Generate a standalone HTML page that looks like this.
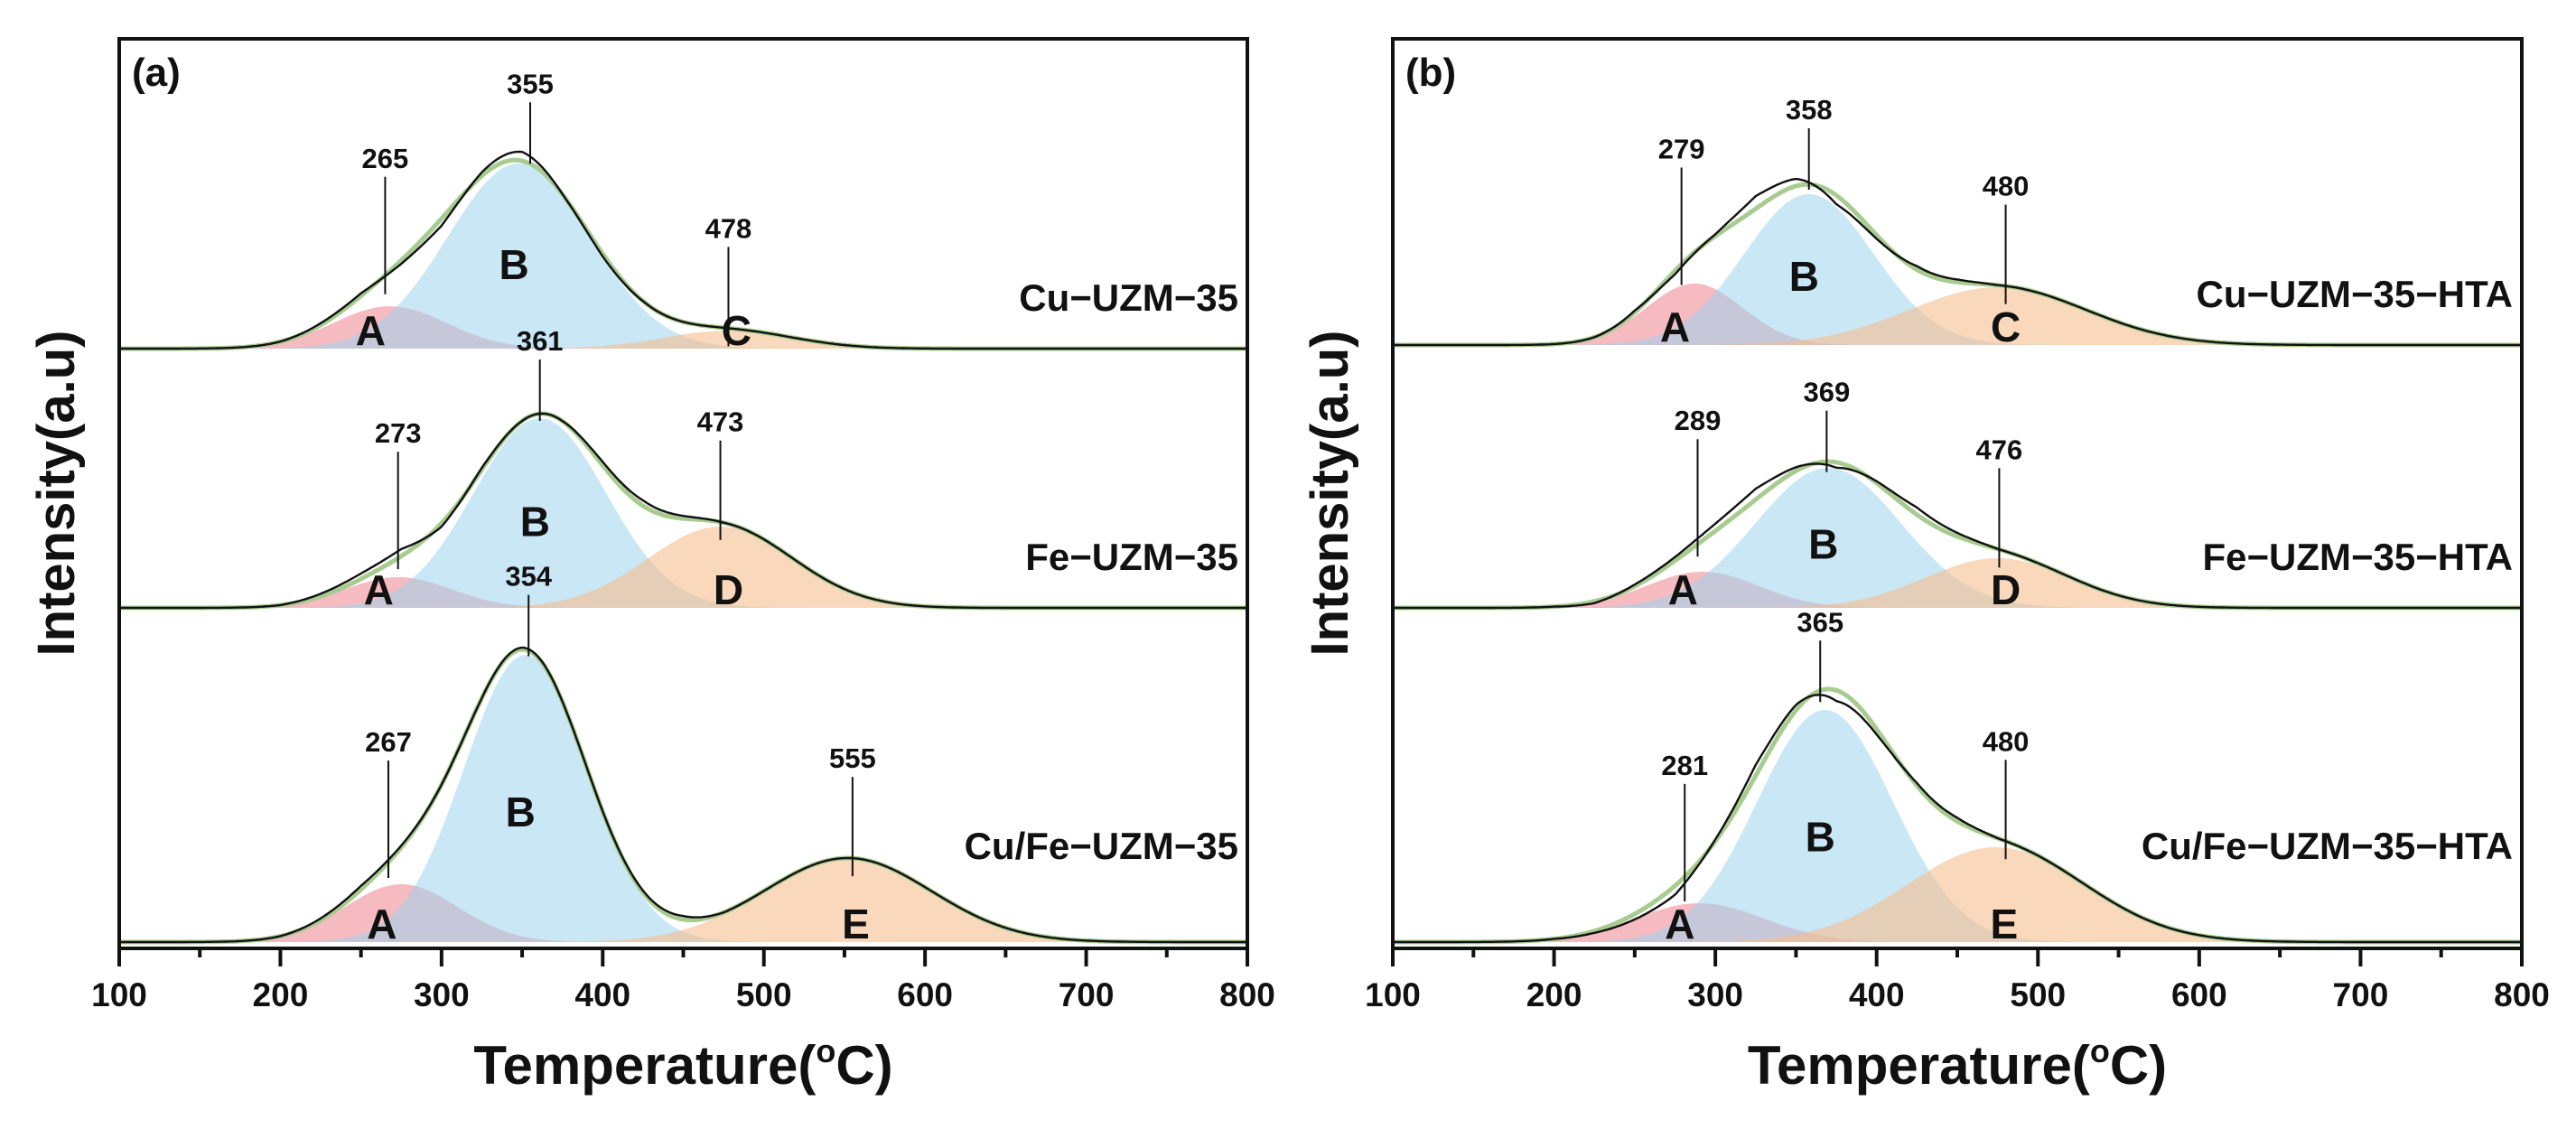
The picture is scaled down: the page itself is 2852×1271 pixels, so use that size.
<!DOCTYPE html>
<html><head><meta charset="utf-8">
<style>
html,body{margin:0;padding:0;background:#fff;}
svg{display:block;font-family:"Liberation Sans",Arial,sans-serif;}
</style></head>
<body>
<svg id="chart" width="2852" height="1271" viewBox="0 0 2852 1271" xmlns="http://www.w3.org/2000/svg"></svg>
<script>
// ---------- data ----------
const xTicks = [100,200,300,400,500,600,700,800];
// Panel (a)
const namesA = ["Cu\u2212UZM\u221235","Fe\u2212UZM\u221235","Cu/Fe\u2212UZM\u221235"];
const centersA = [[268,348,478],[273,361,473],[275,352,552]];
const heightsA = [[47,205,20],[34,210,90],[64,318,93]];
const sigmasA  = [[35,44,40],[33,41,45],[35,38,52]];
const lettersA = [["A","B","C"],["A","B","D"],["A","B","E"]];
const peakLabelsA = [[265,355,478],[273,361,473],[267,354,555]];
// Panel (b)
const namesB = ["Cu\u2212UZM\u221235\u2212HTA","Fe\u2212UZM\u221235\u2212HTA","Cu/Fe\u2212UZM\u221235\u2212HTA"];
const centersB = [[287,358,475],[292,370,475],[290,368,474]];
const heightsB = [[68,167,64],[40,155,55],[43,257,105]];
const sigmasB  = [[30,40,55],[35,45,45],[40,42,55]];
const lettersB = [["A","B","C"],["A","B","D"],["A","B","E"]];
const peakLabelsB = [[279,358,480],[289,369,476],[281,365,480]];
// residuals of experimental (black) vs fit, at temperatures residT
const residT = [225,250,275,300,325,350,375,400,425,450];
const residA = [[2,3,-4,-8,4,10,0,-3,0,0],[3,6,8,-4,2,0,0,4,6,3],[2,4,2,0,0,2,0,0,2,4]];
const residB = [[0,2,-4,2,14,8,-10,-4,4,3],[-2,2,4,8,12,4,-6,2,8,4],[-2,-6,-10,2,12,6,-12,-6,3,4]];

// ---------- layout ----------
const svg = document.getElementById('chart');
const NS = "http://www.w3.org/2000/svg";
const panels = [
  {id:"a", x0:132, x1:1381, names:namesA, centers:centersA, heights:heightsA, sigmas:sigmasA, letters:lettersA, peaks:peakLabelsA, resid:residA, bases:[386,673,1043]},
  {id:"b", x0:1542, x1:2792, names:namesB, centers:centersB, heights:heightsB, sigmas:sigmasB, letters:lettersB, peaks:peakLabelsB, resid:residB, bases:[382,673,1043]}
];
const yTop = 43, yAxis = 1050;
const fillCols = ["#f08c98","#9fd3ef","#f5be8e"];

function mk(tag, attrs, parent){const e=document.createElementNS(NS,tag);for(const k in attrs)e.setAttribute(k,attrs[k]);(parent||svg).appendChild(e);return e;}
function gauss(T,c,h,s){return h*Math.exp(-(T-c)*(T-c)/(2*s*s));}
function interpRes(T,arr){
  if(T<=residT[0]-25||T>=residT[residT.length-1]+25)return 0;
  const pts=[[residT[0]-25,0]].concat(residT.map((t,i)=>[t,arr[i]])).concat([[residT[residT.length-1]+25,0]]);
  for(let i=0;i<pts.length-1;i++){if(T>=pts[i][0]&&T<=pts[i+1][0]){const f=(T-pts[i][0])/(pts[i+1][0]-pts[i][0]);return pts[i][1]+f*(pts[i+1][1]-pts[i][1]);}}
  return 0;
}

panels.forEach((p,pi)=>{
  const xs = T => p.x0 + (T-100)/700*(p.x1-p.x0);
  const g = mk('g',{});
  
  
  const clipId='clip'+p.id;
  const cp=mk('clipPath',{id:clipId},g); mk('rect',{x:p.x0,y:yTop,width:p.x1-p.x0,height:yAxis-yTop},cp);
  const plot=mk('g',{'clip-path':'url(#'+clipId+')'},g);

  p.names.forEach((nm,si)=>{
    const base=p.bases[si];
    const ys = v => base - v;
    const sg=mk('g',{},plot);
    
    
    p.centers[si].forEach((c,ci)=>{
      const h=p.heights[si][ci], s=p.sigmas[si][ci];
      let d='M'+xs(100)+','+base;
      for(let T=100;T<=800;T+=2)d+=' L'+xs(T).toFixed(1)+','+ys(gauss(T,c,h,s)).toFixed(1);
      d+=' L'+xs(800)+','+base+' Z';
      const e=mk('path',{d:d,fill:fillCols[ci],'fill-opacity':ci==1?0.55:0.6,stroke:'none'},sg);
      
      
    });
    const fit=T=>p.centers[si].reduce((a,c,ci)=>a+gauss(T,c,p.heights[si][ci],p.sigmas[si][ci]),0);
    let d='';
    for(let T=100;T<=800;T+=2)d+=(T==100?'M':' L')+xs(T).toFixed(1)+','+ys(fit(T)).toFixed(1);
    const fe=mk('path',{d:d,fill:'none',stroke:'#a8cc90',"stroke-width":5},sg);
    
    
    let d2='';
    for(let T=100;T<=800;T+=1.5)d2+=(T==100?'M':' L')+xs(T).toFixed(1)+','+ys(fit(T)+interpRes(T,p.resid[si])).toFixed(1);
    const be=mk('path',{d:d2,fill:'none',stroke:'#111',"stroke-width":2.4},sg);
    
    
    p.centers[si].forEach((c,ci)=>{
      const hh=p.heights[si][ci];
      const ly = ci==1 ? base-hh*0.45+15 : base-4;
      const lx = ci==0 ? xs(c-12) : xs(c+ (ci==1?-3:5));
      const t=mk('text',{x:lx,y:ly,'font-size':46,'font-weight':'bold','text-anchor':'middle',fill:'#111'},g);
      t.textContent=p.letters[si][ci];
      
      
    });
    p.peaks[si].forEach((T,ci)=>{
      const yc = ys(fit(T)+interpRes(T,p.resid[si]));
      const len = ci==1?60:(ci==0?110:90);
      const ytop = yc - len;
      mk('line',{x1:xs(T),y1:yc+ (ci==1?8:20),x2:xs(T),y2:ytop,stroke:'#111','stroke-width':2},g);
      const t=mk('text',{x:xs(T),y:ytop-10,'font-size':31,'font-weight':'bold','text-anchor':'middle',fill:'#111'},g);
      t.textContent=T;
      
      
    });
    const nt=mk('text',{x:p.x1-10,y:base-(si==2?92:42),'font-size':42,'font-weight':'bold','text-anchor':'end',fill:'#111'},g);
    nt.textContent=nm;
    
    
  });

  const fr=mk('rect',{x:p.x0,y:yTop,width:p.x1-p.x0,height:yAxis-yTop,fill:'none',stroke:'#111','stroke-width':4},g);
  
  
  for(let T=100;T<=800;T+=50){
    const major=(T%100===0);
    mk('line',{x1:xs(T),y1:yAxis,x2:xs(T),y2:yAxis+(major?20:10),stroke:'#111','stroke-width':4},g);
  }
  xTicks.forEach(T=>{
    const t=mk('text',{x:xs(T),y:yAxis+64,'font-size':37,'font-weight':'bold','text-anchor':'middle',fill:'#111'},g);
    t.textContent=T;
    
    
  });
  const pl=mk('text',{x:p.x0+14,y:yTop+52,'font-size':44,'font-weight':'bold',fill:'#111'},g);
  pl.textContent='('+p.id+')';
  
  
  const xt=mk('text',{x:(p.x0+p.x1)/2,y:1200,'font-size':60,'font-weight':'bold','text-anchor':'middle',fill:'#111'},g);
  xt.innerHTML='Temperature(<tspan dy="-24" font-size="36">o</tspan><tspan dy="24">C)</tspan>';
  
  
  const yt=mk('text',{x:0,y:0,transform:'translate('+(p.x0-50)+',546) rotate(-90)','font-size':58,'font-weight':'bold','text-anchor':'middle',fill:'#111'},g);
  yt.textContent='Intensity(a.u)';
  
  
});
</script>
</body></html>
